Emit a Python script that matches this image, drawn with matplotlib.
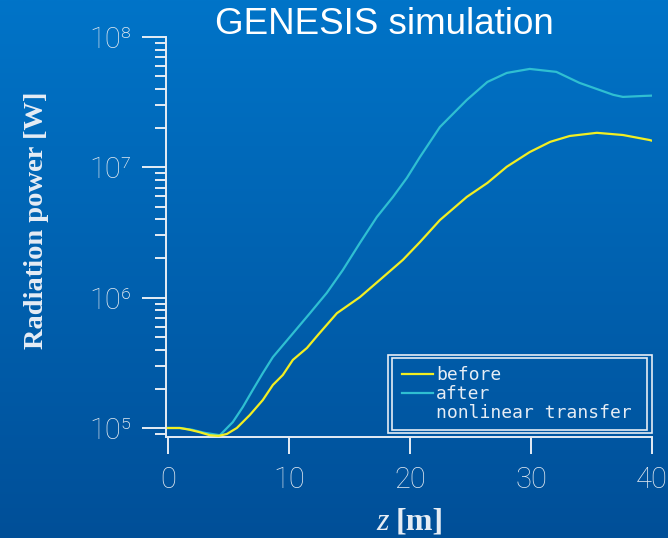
import numpy as np
import matplotlib.pyplot as plt
from matplotlib.lines import Line2D
from matplotlib.patches import Rectangle
from matplotlib.ticker import LogLocator, FixedLocator

# ----------------------------------------------------------------
#  DATA  (power in W)
# ----------------------------------------------------------------
z_after = [0, 1, 2, 3, 4.3, 5.37, 6.2, 7.02, 7.85, 8.68, 10.08, 11.74,
           13.14, 14.46, 15.87, 17.27, 18.6, 19.75, 20.83, 22.48, 24.7,
           26.4, 28.0, 29.9, 32.1, 34.0, 36.8, 37.6, 39.3, 40]
p_after = [1.0e5, 1.0e5, 9.7e4, 9.2e4, 8.8e4, 1.11e5, 1.45e5, 1.96e5,
           2.64e5, 3.5e5, 4.99e5, 7.6e5, 1.09e6, 1.63e6, 2.63e6, 4.16e6,
           5.93e6, 8.3e6, 1.2e7, 2.04e7, 3.29e7, 4.52e7, 5.3e7, 5.69e7,
           5.4e7, 4.45e7, 3.6e7, 3.47e7, 3.53e7, 3.55e7]

z_before = [0, 1, 1.8, 2.6, 3.47, 4.2, 4.88, 5.7, 6.78, 7.85, 8.68, 9.5,
            10.33, 11.49, 12.4, 13.97, 15.87, 17.52, 19.42, 20.83, 22.48,
            24.7, 26.4, 28.0, 29.9, 31.6, 33.2, 35.45, 37.6, 39.8, 40]
p_before = [1.0e5, 1.0e5, 9.7e4, 9.3e4, 8.8e4, 8.7e4, 9.0e4, 1.0e5,
            1.26e5, 1.64e5, 2.14e5, 2.55e5, 3.33e5, 4.11e5, 5.17e5, 7.6e5,
            1.01e6, 1.37e6, 1.95e6, 2.67e6, 3.94e6, 5.93e6, 7.59e6, 1.01e7,
            1.31e7, 1.57e7, 1.74e7, 1.84e7, 1.77e7, 1.62e7, 1.6e7]

labels = ['before', 'after', 'nonlinear transfer']
x_ticks = [0, 10, 20, 30, 40]
y_ticks = [1e5, 1e6, 1e7, 1e8]
y_ticklabels = ['10\u2075', '10\u2076', '10\u2077', '10\u2078']

C_BEFORE = '#f2ee22'
C_AFTER = '#2fbfd2'
C_FG = '#e6edf5'
C_TICK = '#e0e8f0'

fig = plt.figure(figsize=(6.68, 5.38), dpi=100)

# background gradient
bg = fig.add_axes([0, 0, 1, 1], zorder=-10)
grad = np.linspace(0, 1, 256).reshape(-1, 1)
top = np.array([0x00, 0x74, 0xc8]) / 255
bot = np.array([0x00, 0x4f, 0x98]) / 255
img = top[None, None, :] * (1 - grad[:, :, None]) + bot[None, None, :] * grad[:, :, None]
bg.imshow(img, aspect='auto', extent=[0, 1, 0, 1])
bg.axis('off')

ax = fig.add_axes([166 / 668, 1 - 437 / 538, 486 / 668, 400 / 538])
ax.set_facecolor('none')

ax.plot(z_before, p_before, color=C_BEFORE, lw=1.6, zorder=3)
ax.plot(z_after, p_after, color=C_AFTER, lw=1.6, zorder=2)

ax.set_yscale('log')
ax.set_xlim(-0.15, 40)
ax.set_ylim(8.53e4, 1e8)

ax.xaxis.set_major_locator(FixedLocator(x_ticks))
ax.yaxis.set_major_locator(FixedLocator(y_ticks))
ax.yaxis.set_minor_locator(LogLocator(base=10, subs=np.arange(2, 10)))
ax.yaxis.set_minor_formatter(plt.NullFormatter())
ax.set_xticklabels([str(v) for v in x_ticks], family=['Roboto', 'DejaVu Sans'],
                   fontweight='light', fontsize=21)
ax.set_yticklabels(y_ticklabels, family=['Roboto', 'DejaVu Sans'],
                   fontweight='light', fontsize=21)

for s in ['top', 'right']:
    ax.spines[s].set_visible(False)
for s in ['left', 'bottom']:
    ax.spines[s].set_color(C_FG)
    ax.spines[s].set_linewidth(1.4)

ax.tick_params(axis='both', which='both', colors=C_FG, labelcolor=C_TICK, width=1.4)
ax.tick_params(axis='x', which='major', length=12, pad=9)
ax.tick_params(axis='x', which='minor', length=0)
ax.tick_params(axis='y', which='major', length=17, pad=8)
ax.tick_params(axis='y', which='minor', length=8)

# legend with double border
handles = [Line2D([], [], color=C_BEFORE, lw=1.6),
           Line2D([], [], color=C_AFTER, lw=1.6),
           Line2D([], [], color='none')]
leg = ax.legend(handles, labels, loc='upper left', bbox_to_anchor=(0.47, 0.195),
                frameon=False, prop={'family': 'DejaVu Sans Mono', 'size': 13},
                handlelength=1.75, handletextpad=0.15, labelspacing=0.05,
                borderaxespad=0)
for t in leg.get_texts():
    t.set_color(C_FG)
ax.add_patch(Rectangle((0.456, 0.01), 0.543, 0.195, transform=ax.transAxes,
                       fill=False, ec=C_FG, lw=1.2, clip_on=False, zorder=5))
ax.add_patch(Rectangle((0.465, 0.0175), 0.525, 0.18, transform=ax.transAxes,
                       fill=False, ec=C_FG, lw=1.2, clip_on=False, zorder=5))

fig.text(384 / 668, 1 - 24 / 538, 'GENESIS simulation', color='white',
         fontfamily='Liberation Sans', fontsize=26.5, ha='center', va='center')
fig.text(37 / 668, 1 - 220 / 538, 'Radiation power [W]', color=C_FG,
         fontfamily='Liberation Serif', fontweight='bold', fontsize=20.5,
         rotation=90, ha='center', va='center')
fig.text(389 / 668, 1 - 530 / 538, 'z', color=C_FG, fontfamily='Liberation Serif',
         fontstyle='italic', fontsize=23, ha='right', va='baseline')
fig.text(396 / 668, 1 - 530 / 538, '[m]', color=C_FG, fontfamily='Liberation Serif',
         fontweight='bold', fontsize=23, ha='left', va='baseline')

plt.savefig('out.png', dpi=100)
